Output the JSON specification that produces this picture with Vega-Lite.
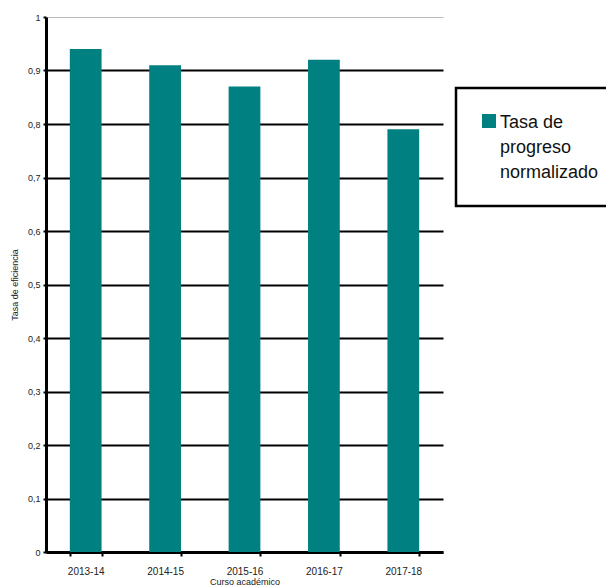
{
  "$schema": "https://vega.github.io/schema/vega-lite/v6.json",
  "autosize": "none",
  "padding": {"left": 46, "top": 17, "right": 163, "bottom": 36},
  "width": 397,
  "height": 535,
  "background": "white",
  "config": {
    "font": "Liberation Sans",
    "view": {"stroke": null}
  },
  "data": {
    "values": [
      {"curso": "2013-14", "serie": "Tasa de progreso normalizado", "valor": 0.94},
      {"curso": "2014-15", "serie": "Tasa de progreso normalizado", "valor": 0.91},
      {"curso": "2015-16", "serie": "Tasa de progreso normalizado", "valor": 0.87},
      {"curso": "2016-17", "serie": "Tasa de progreso normalizado", "valor": 0.92},
      {"curso": "2017-18", "serie": "Tasa de progreso normalizado", "valor": 0.79}
    ]
  },
  "mark": {"type": "bar"},
  "encoding": {
    "x": {
      "field": "curso",
      "type": "nominal",
      "sort": null,
      "scale": {"paddingInner": 0.6, "paddingOuter": 0.3},
      "axis": {
        "title": "Curso académico",
        "titleFontSize": 9,
        "titleFontWeight": "normal",
        "titleColor": "#222",
        "titlePadding": 1,
        "labelAngle": 0,
        "labelFontSize": 10,
        "labelColor": "#222",
        "labelPadding": 10,
        "tickBand": "extent",
        "tickColor": "black",
        "tickWidth": 2,
        "tickSize": 4,
        "domainColor": "black",
        "domainWidth": 3
      }
    },
    "y": {
      "field": "valor",
      "type": "quantitative",
      "scale": {"domain": [0, 1]},
      "axis": {
        "title": "Tasa de eficiencia",
        "titleFontSize": 9,
        "titleFontWeight": "normal",
        "titleColor": "#222",
        "titlePadding": 8,
        "values": [0, 0.1, 0.2, 0.3, 0.4, 0.5, 0.6, 0.7, 0.8, 0.9, 1],
        "labelExpr": "replace(format(datum.value, '.1~f'), '.', ',')",
        "labelFontSize": 9,
        "labelColor": "#222",
        "labelPadding": 3,
        "tickColor": "black",
        "tickWidth": 2,
        "tickSize": 3,
        "domainColor": "black",
        "domainWidth": 3,
        "grid": true,
        "gridColor": {"expr": "datum.value == 1 ? '#bbbbbb' : 'black'"},
        "gridWidth": {"expr": "datum.value == 1 ? 1 : 2"},
        "gridOpacity": 1
      }
    },
    "color": {
      "field": "serie",
      "type": "nominal",
      "scale": {"range": ["#008080"]},
      "legend": {
        "title": null,
        "orient": "none",
        "legendX": 410,
        "legendY": 71,
        "symbolType": "square",
        "symbolSize": 196,
        "symbolStrokeWidth": 0,
        "symbolOpacity": 1,
        "labelFontSize": 18,
        "labelColor": "#111",
        "labelLimit": 300,
        "labelOffset": 2,
        "labelBaseline": "top",
        "labelExpr": "['Tasa de', 'progreso', 'normalizado']",
        "padding": 24,
        "strokeColor": "black",
        "fillColor": "white",
        "encode": {
          "labels": {"update": {"lineHeight": {"value": 25}, "dy": {"value": -7}}},
          "legend": {"update": {"strokeWidth": {"value": 2.5}}}
        }
      }
    }
  }
}
